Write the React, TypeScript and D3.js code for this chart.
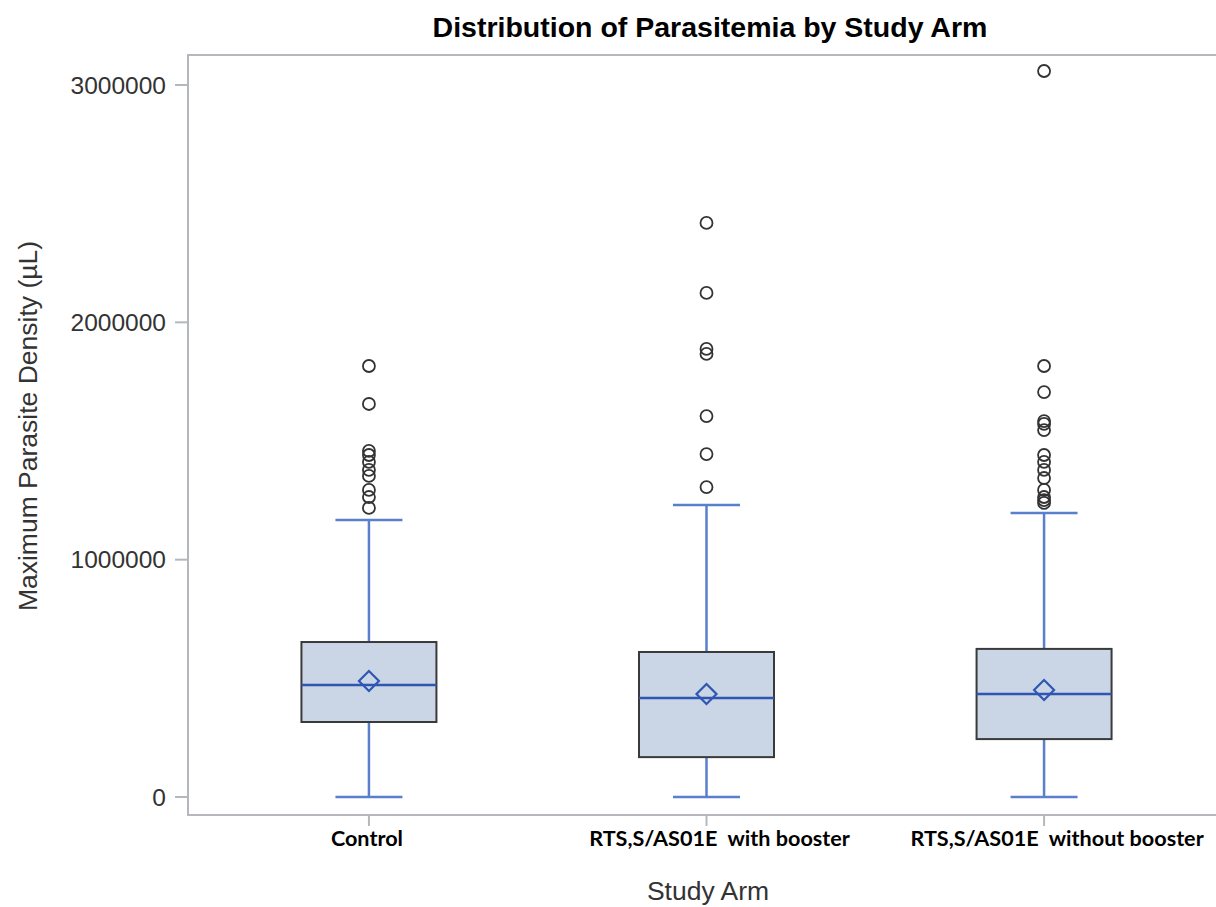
import React from "react";
import * as d3 from "d3";

const categories = ["Control", "RTS,S/AS01E  with booster", "RTS,S/AS01E  without booster"];
const q1 = [316000, 168000, 244000];
const medians = [472000, 417000, 434000];
const q3 = [653000, 611000, 624000];
const means = [489000, 434000, 451000];
const whiskerLow = [0, 0, 0];
const whiskerHigh = [1167000, 1230000, 1197000];
const outliers = [
  [1816000, 1656000, 1458000, 1441000, 1412000, 1378000, 1353000, 1294000, 1264000, 1218000],
  [2419000, 2124000, 1888000, 1867000, 1605000, 1445000, 1306000],
  [3059000, 1816000, 1706000, 1584000, 1572000, 1546000, 1441000, 1412000, 1378000, 1344000, 1294000, 1264000, 1251000, 1239000],
];
const yTicks = [0, 1000000, 2000000, 3000000];

const W = 1216;
const H = 907;
const left = 188;
const top = 55;
const bottom = 815;
const right = 1225;

const BOX_W = 135;
const CAP_W = 67;

export default function App() {
  const x = d3.scalePoint<string>().domain(categories).range([left, right]).padding(0.536);
  const y = d3.scaleLinear().domain([0, 3000000]).range([797, 85]);

  return (
    <svg
      width={W}
      height={H}
      style={{ position: "absolute", left: 0, top: 0, background: "#fff" }}
      fontFamily="'Liberation Sans', Arial, sans-serif"
    >
      <text x={710} y={37} textAnchor="middle" fontSize={28.5} fontWeight="bold" fill="#000">
        Distribution of Parasitemia by Study Arm
      </text>

      {/* frame */}
      <rect x={left} y={top} width={right - left} height={bottom - top} fill="none" stroke="#b4b8bc" strokeWidth={2} />

      {/* y axis */}
      {yTicks.map((t) => (
        <g key={t}>
          <line x1={left - 13} x2={left} y1={y(t)} y2={y(t)} stroke="#b4b8bc" strokeWidth={2} />
          <text x={166} y={y(t)} dy="0.35em" textAnchor="end" fontSize={24.5} fill="#333">
            {t}
          </text>
        </g>
      ))}
      <text
        transform={`translate(37,${(top + bottom) / 2 - 9}) rotate(-90)`}
        textAnchor="middle"
        fontSize={26.5}
        fill="#333"
      >
        Maximum Parasite Density (µL)
      </text>

      {/* x axis */}
      {categories.map((c, i) => (
        <g key={c}>
          <line x1={x(c)} x2={x(c)} y1={bottom} y2={bottom + 11} stroke="#b4b8bc" strokeWidth={2} />
          <text
            x={x(c)}
            dx={i > 0 ? 13 : -2}
            y={846}
            textAnchor="middle"
            fontSize={21.6}
            fontWeight="bold"
            fill="#000"
            fontFamily="Lato, 'Noto Sans', sans-serif"
            style={{ whiteSpace: "pre" }}
          >
            {c}
          </text>
        </g>
      ))}
      <text x={708} y={900} textAnchor="middle" fontSize={26.5} fill="#333">
        Study Arm
      </text>

      {/* boxes */}
      {categories.map((c, i) => {
        const cx = x(c) as number;
        return (
          <g key={c}>
            <line x1={cx} x2={cx} y1={y(q3[i])} y2={y(whiskerHigh[i])} stroke="#5a7fcc" strokeWidth={2.5} />
            <line x1={cx} x2={cx} y1={y(q1[i])} y2={y(whiskerLow[i])} stroke="#5a7fcc" strokeWidth={2.5} />
            <line x1={cx - CAP_W / 2} x2={cx + CAP_W / 2} y1={y(whiskerHigh[i])} y2={y(whiskerHigh[i])} stroke="#5a7fcc" strokeWidth={2.5} />
            <line x1={cx - CAP_W / 2} x2={cx + CAP_W / 2} y1={y(whiskerLow[i])} y2={y(whiskerLow[i])} stroke="#5a7fcc" strokeWidth={2.5} />
            <rect
              x={cx - BOX_W / 2}
              y={y(q3[i])}
              width={BOX_W}
              height={y(q1[i]) - y(q3[i])}
              fill="#cad5e5"
              stroke="#3a3a3a"
              strokeWidth={2}
            />
            <line x1={cx - BOX_W / 2} x2={cx + BOX_W / 2} y1={y(medians[i])} y2={y(medians[i])} stroke="#2f56b3" strokeWidth={2.5} />
            <path
              d={`M${cx},${y(means[i]) - 10}L${cx + 10},${y(means[i])}L${cx},${y(means[i]) + 10}L${cx - 10},${y(means[i])}Z`}
              fill="none"
              stroke="#2f56b3"
              strokeWidth={2.2}
            />
            {outliers[i].map((v, j) => (
              <circle key={j} cx={cx} cy={y(v)} r={6} fill="none" stroke="#333" strokeWidth={1.8} />
            ))}
          </g>
        );
      })}
    </svg>
  );
}
